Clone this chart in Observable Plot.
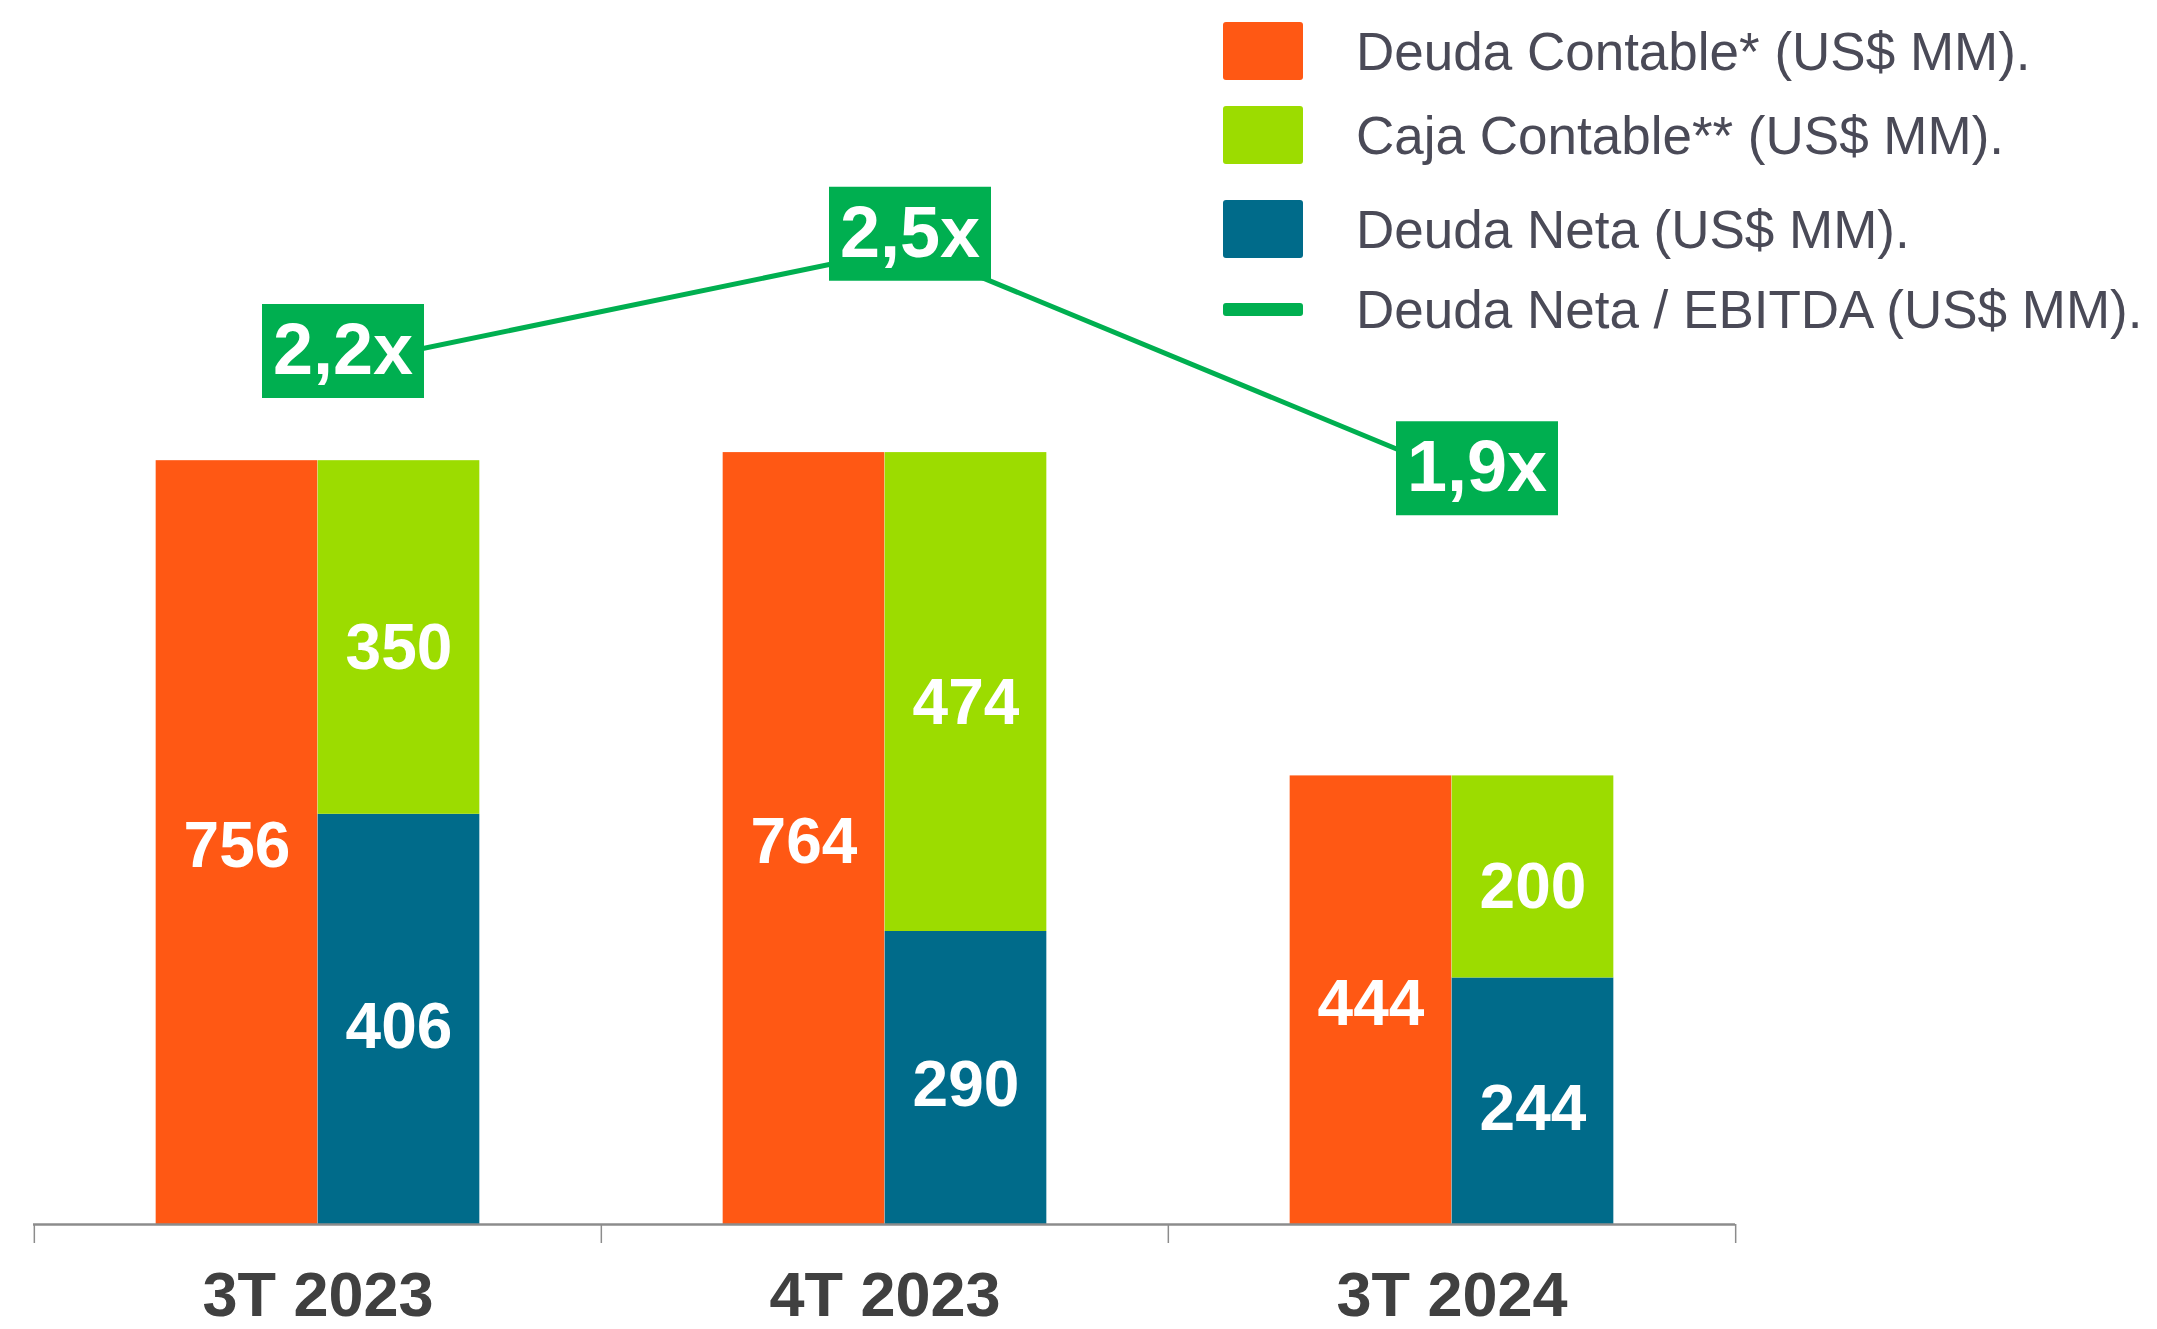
<!DOCTYPE html>
<html><head><meta charset="utf-8">
<script src="https://cdn.jsdelivr.net/npm/d3@7"></script>
<script src="https://cdn.jsdelivr.net/npm/@observablehq/plot@0.6"></script>
<style>
html,body{margin:0;padding:0;background:#fff;}
#wrap{position:relative;width:2157px;height:1329px;font-family:"Liberation Sans",Arial,sans-serif;}
#chart svg{display:block;}
#legend{position:absolute;left:1223px;top:0;}
.row{position:absolute;left:0;height:70px;display:flex;align-items:center;white-space:nowrap;}
.sw{width:80px;height:58px;border-radius:3px;}
.sw.line{height:13px;border-radius:3px;}
.lbl{margin-left:53px;font-size:53px;color:#4a4a57;}
</style></head>
<body><div id="wrap"><div id="chart"></div><div id="legend"></div></div>
<script>
// ---- data ----
const categories = ["3T 2023", "4T 2023", "3T 2024"];
const deudaContable = [756, 764, 444];
const cajaContable = [350, 474, 200];
const deudaNeta = [406, 290, 244];
const ratio = [2.2, 2.5, 1.9];
const ratioLabels = ["2,2x", "2,5x", "1,9x"];
const seriesNames = ["Deuda Contable* (US$ MM).", "Caja Contable** (US$ MM).", "Deuda Neta (US$ MM).", "Deuda Neta / EBITDA (US$ MM)."];

// ---- styles / layout ----
const colors = {deuda: "#FF5814", caja: "#9CDC00", neta: "#006B8A", ratio: "#00AF50"};
const W = 2157, H = 1329, ml = 33, mr = 422, mt = 52, mb = 105;
const yMax = 1160, ratioMax = 3;
const barW = 162;
const step = (W - ml - mr) / categories.length;
const gap = (step - 2 * barW) / 2;
const k = yMax / ratioMax;
const lineDx = 25, boxDy = -14;

const rows = categories.map((c, i) => ({
  cat: c, deuda: deudaContable[i], caja: cajaContable[i], neta: deudaNeta[i],
  ratio: ratio[i], rl: ratioLabels[i]
}));

const boxSymbol = {draw(ctx) { ctx.rect(-81, -47, 162, 94); }};

const chart = Plot.plot({
  width: W, height: H,
  marginLeft: ml, marginRight: mr, marginTop: mt, marginBottom: mb,
  style: {fontFamily: "Liberation Sans, Arial, sans-serif", background: "#fff", overflow: "visible"},
  x: {type: "band", domain: categories, padding: 0},
  y: {domain: [0, yMax], axis: null},
  marks: [
    Plot.barY(rows, {x: "cat", y: "deuda", fill: colors.deuda, insetLeft: gap, insetRight: gap + barW}),
    Plot.barY(rows, {x: "cat", y1: 0, y2: "neta", fill: colors.neta, insetLeft: gap + barW, insetRight: gap}),
    Plot.barY(rows, {x: "cat", y1: "neta", y2: d => d.neta + d.caja, fill: colors.caja, insetLeft: gap + barW, insetRight: gap}),
    Plot.ruleY([0], {stroke: "#8c8c8c", strokeWidth: 2.5}),
    Plot.axisX({tickSize: 19, dx: -step / 2, tickFormat: () => "", stroke: "#8c8c8c", strokeWidth: 1.5, label: null}),
    Plot.axisX([categories[categories.length - 1]], {tickSize: 19, dx: step / 2, tickFormat: () => "", stroke: "#8c8c8c", strokeWidth: 1.5, label: null}),
    Plot.axisX({tickSize: 0, tickPadding: 47, fontSize: 63, fontWeight: "bold", fill: "#404040", label: null}),
    Plot.text(rows, {x: "cat", y: d => d.deuda / 2, text: d => String(d.deuda), dx: -barW / 2, dy: 4, fill: "white", fontSize: 64, fontWeight: "bold"}),
    Plot.text(rows, {x: "cat", y: d => d.neta / 2, text: d => String(d.neta), dx: barW / 2, dy: 8, fill: "white", fontSize: 64, fontWeight: "bold"}),
    Plot.text(rows, {x: "cat", y: d => d.neta + d.caja / 2, text: d => String(d.caja), dx: barW / 2, dy: 11, fill: "white", fontSize: 64, fontWeight: "bold"}),
    Plot.line(rows, {x: "cat", y: d => d.ratio * k, dx: lineDx, stroke: colors.ratio, strokeWidth: 5}),
    Plot.dot(rows, {x: "cat", y: d => d.ratio * k, dx: lineDx, dy: boxDy, symbol: boxSymbol, fill: colors.ratio, stroke: null, r: 10}),
    Plot.text(rows, {x: "cat", y: d => d.ratio * k, dx: lineDx, dy: boxDy, text: "rl", fill: "white", fontSize: 72, fontWeight: "bold"})
  ]
});
document.getElementById("chart").appendChild(chart);

// ---- legend ----
const legend = document.getElementById("legend");
const swColors = [colors.deuda, colors.caja, colors.neta, colors.ratio];
const rowCenters = [51, 135, 229, 309];
seriesNames.forEach((name, i) => {
  const r = document.createElement("div");
  r.className = "row";
  r.style.top = (rowCenters[i] - 35) + "px";
  const sw = document.createElement("div");
  sw.className = "sw" + (i === 3 ? " line" : "");
  sw.style.background = swColors[i];
  const l = document.createElement("span");
  l.className = "lbl";
  l.textContent = name;
  r.appendChild(sw); r.appendChild(l);
  legend.appendChild(r);
});
</script>
</body></html>
